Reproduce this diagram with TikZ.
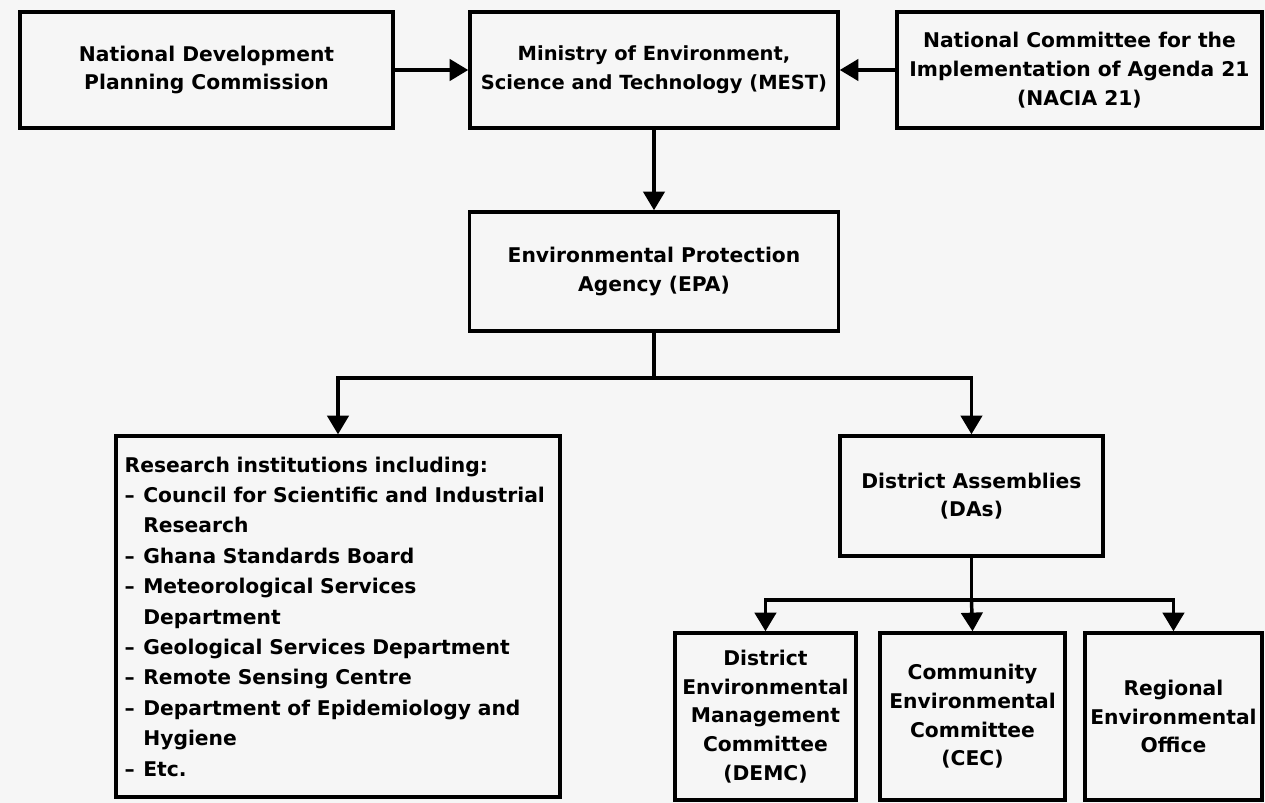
\documentclass[tikz,border=0pt]{standalone}
\usepackage{fontspec}
\setmainfont{DejaVu Sans}
\usetikzlibrary{arrows.meta}

\definecolor{paper}{HTML}{F6F6F6}

\begin{document}
\begin{tikzpicture}[%
        x = 1pt,
        y = -1pt,
        line width = 2.6pt,
        > = {Triangle[width = 16pt, length = 14pt]},
        box/.style = {
            draw = black,
            fill = paper,
            rectangle,
            align = center,
            inner sep = 3pt,
            font = \bfseries\fontsize{15.2}{21.5}\selectfont
        },
        listbox/.style = {
            box,
            align = left,
            inner xsep = 6pt,
            font = \bfseries\fontsize{15.2}{22.8}\selectfont
        },
        link/.style = {
            draw = black,
            ->
        }
    ]

        % Page background and margins.
        \fill[paper] (0, 0) rectangle (948.75, 602.25);
        \useasboundingbox (0, 0) rectangle (948.75, 602.25);

        % Top row.
        \node[box, minimum width = 279.75pt, minimum height = 87pt]
            at (154.9, 52.5) (ndpc) {National Development\\Planning Commission};
        \node[box, minimum width = 276pt, minimum height = 87pt,
              font = \bfseries\fontsize{14.6}{21.5}\selectfont]
            at (490.5, 52.5) (mest) {Ministry of Environment,\\Science and Technology (MEST)};
        \node[box, minimum width = 273.75pt, minimum height = 87pt]
            at (809.6, 52.5) (nacia) {National Committee for the\\Implementation of Agenda 21\\(NACIA 21)};

        % Agency.
        \node[box, minimum width = 276.75pt, minimum height = 89.25pt]
            at (490.5, 203.6) (epa) {Environmental Protection\\Agency (EPA)};

        % Research institutions.
        \node[listbox, text width = 320pt, minimum width = 333pt, minimum height = 270.75pt]
            at (253.5, 462.4) (research) {%
            Research institutions including:\\
            \makebox[14pt][l]{--}Council for Scientific and Industrial\\
            \hspace*{14pt}Research\\
            \makebox[14pt][l]{--}Ghana Standards Board\\
            \makebox[14pt][l]{--}Meteorological Services\\
            \hspace*{14pt}Department\\
            \makebox[14pt][l]{--}Geological Services Department\\
            \makebox[14pt][l]{--}Remote Sensing Centre\\
            \makebox[14pt][l]{--}Department of Epidemiology and\\
            \hspace*{14pt}Hygiene\\
            \makebox[14pt][l]{--}Etc.};

        % District level.
        \node[box, minimum width = 197.25pt, minimum height = 90pt]
            at (728.6, 372) (das) {District Assemblies\\(DAs)};
        \node[box, minimum width = 135.75pt, minimum height = 125.25pt]
            at (574.1, 537.4) (demc) {District\\Environmental\\Management\\Committee\\(DEMC)};
        \node[box, minimum width = 138.75pt, minimum height = 125.25pt]
            at (729.4, 537.4) (cec) {Community\\Environmental\\Committee\\(CEC)};
        \node[box, minimum width = 132.75pt, minimum height = 125.25pt]
            at (880.1, 537.4) (reo) {Regional\\Environmental\\Office};

        % Branch points.
        \coordinate (epafork) at (490.5, 283.5);
        \coordinate (dasfork) at (728.6, 450);

        % Arrows into the ministry.
        \path (ndpc) edge[link] (mest);
        \path (nacia) edge[link] (mest);
        \path (mest) edge[link] (epa);

        % Agency to research institutions and assemblies.
        \draw (epa.south) -- (epafork);
        \draw[link] (epafork) -| (research.north);
        \draw[link] (epafork) -| (das.north);

        % Assemblies to local bodies.
        \draw (das.south) -- (dasfork);
        \draw[link] (dasfork) -| (demc.north);
        \draw[link] (dasfork) -- (cec.north);
        \draw[link] (dasfork) -| (reo.north);
    \end{tikzpicture}
\end{document}
